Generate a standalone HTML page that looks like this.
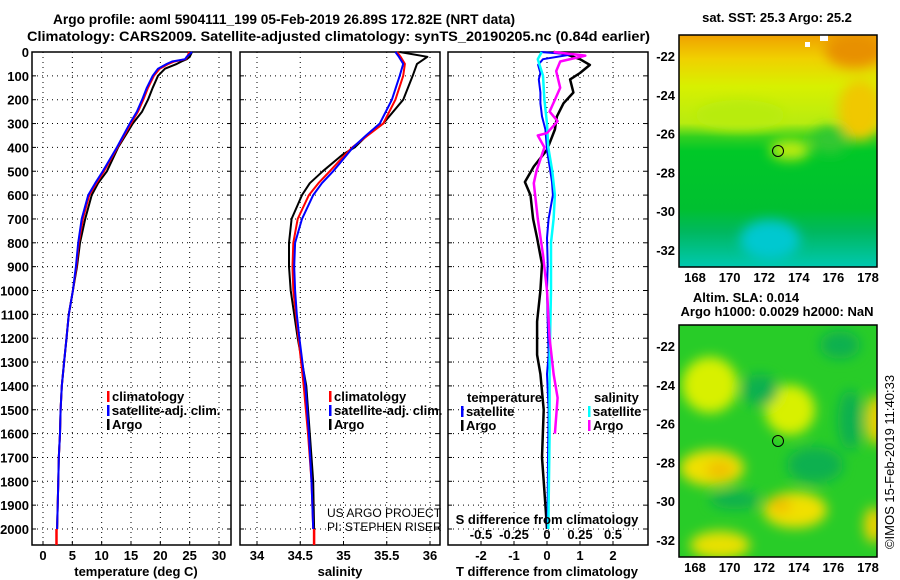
<!DOCTYPE html>
<html><head><meta charset="utf-8">
<style>
html,body{margin:0;padding:0;background:#fff;}
svg{display:block;font-family:"Liberation Sans",sans-serif;}
.b{font-weight:bold;font-size:13px;}
.t{font-weight:bold;font-size:14px;}
</style></head>
<body>
<svg id="chart" width="900" height="580" viewBox="0 0 900 580" xmlns="http://www.w3.org/2000/svg">
<defs>
<filter id="blur" x="-20%" y="-20%" width="140%" height="140%"><feGaussianBlur stdDeviation="6"/></filter>
<clipPath id="clipTop"><rect x="679" y="35" width="198" height="232"/></clipPath>
<clipPath id="clipBot"><rect x="679" y="325" width="198" height="232"/></clipPath>
<linearGradient id="sstGrad" x1="0" y1="0" x2="0" y2="1">
<stop offset="0" stop-color="#f0a000"/><stop offset="0.1" stop-color="#f0d000"/>
<stop offset="0.22" stop-color="#d8f000"/><stop offset="0.38" stop-color="#b8ec10"/>
<stop offset="0.44" stop-color="#30d020"/><stop offset="0.5" stop-color="#00c828"/>
<stop offset="0.75" stop-color="#00c030"/><stop offset="0.85" stop-color="#00b860"/>
<stop offset="1" stop-color="#00c8b0"/></linearGradient>
</defs>
<g id="titles">
<text class="t" x="53" y="24" textLength="462" lengthAdjust="spacingAndGlyphs">Argo profile: aoml 5904111_199 05-Feb-2019 26.89S 172.82E (NRT data)</text>
<text class="t" x="27" y="41" textLength="623" lengthAdjust="spacingAndGlyphs">Climatology: CARS2009. Satellite-adjusted climatology: synTS_20190205.nc (0.84d earlier)</text>
</g>
<g id="panels"></g>
<g id="maps">
<g clip-path="url(#clipTop)">
<rect x="679" y="35" width="198" height="232" fill="url(#sstGrad)"/>
<g filter="url(#blur)">
<ellipse cx="855" cy="50" rx="30" ry="18" fill="#e89000"/>
<ellipse cx="860" cy="110" rx="22" ry="30" fill="#f0c800"/>
<ellipse cx="740" cy="115" rx="45" ry="15" fill="#b8ec10"/>
<ellipse cx="830" cy="140" rx="18" ry="14" fill="#30c830"/>
<ellipse cx="770" cy="240" rx="30" ry="20" fill="#00c8d0"/>
<ellipse cx="790" cy="150" rx="20" ry="10" fill="#c0ec10"/>
</g>
<circle cx="778" cy="151" r="5.5" fill="none" stroke="#000" stroke-width="1"/>
<rect x="805" y="42" width="5" height="5" fill="#fff"/><rect x="820" y="35" width="8" height="6" fill="#fff"/>
</g>
<rect x="679" y="35" width="198" height="232" fill="none" stroke="#000" stroke-width="1.5"/>
<g clip-path="url(#clipBot)">
<rect x="679" y="325" width="198" height="232" fill="#28cc28"/>
<g filter="url(#blur)">
<ellipse cx="710" cy="385" rx="28" ry="28" fill="#d8f000"/>
<ellipse cx="790" cy="410" rx="25" ry="25" fill="#d8f000"/>
<ellipse cx="712" cy="468" rx="32" ry="18" fill="#f0e000"/>
<ellipse cx="720" cy="470" rx="14" ry="9" fill="#f0c000"/>
<ellipse cx="795" cy="510" rx="32" ry="18" fill="#f0e000"/>
<ellipse cx="780" cy="505" rx="12" ry="8" fill="#f0c000"/>
<ellipse cx="720" cy="545" rx="30" ry="14" fill="#e8e000"/>
<ellipse cx="876" cy="420" rx="10" ry="25" fill="#f0d000"/>
<ellipse cx="874" cy="525" rx="10" ry="18" fill="#f0d000"/>
<ellipse cx="760" cy="390" rx="18" ry="16" fill="#10b050"/>
<ellipse cx="815" cy="465" rx="28" ry="18" fill="#10b050"/>
<ellipse cx="735" cy="500" rx="25" ry="9" fill="#10b050"/>
<ellipse cx="840" cy="345" rx="20" ry="14" fill="#10b050"/>
<ellipse cx="850" cy="420" rx="12" ry="30" fill="#10b050"/>
</g>
<circle cx="778" cy="441" r="5.5" fill="none" stroke="#000" stroke-width="1"/>
</g>
<rect x="679" y="325" width="198" height="232" fill="none" stroke="#000" stroke-width="1.5"/>
<text class="b" x="777" y="22" text-anchor="middle">sat. SST: 25.3 Argo: 25.2</text>
<text class="b" x="746" y="302" text-anchor="middle">Altim. SLA: 0.014</text>
<text class="b" x="777" y="316" text-anchor="middle">Argo h1000: 0.0029 h2000: NaN</text>
<text font-size="13" transform="translate(894,462) rotate(-90)" text-anchor="middle">©IMOS 15-Feb-2019 11:40:33</text>
</g>
</svg>
<script>
// ---- data (depth in dbar) ----
const tempDepth = [0,20,30,40,50,70,100,150,200,250,300,400,500,550,600,700,800,900,1000,1100,1200,1300,1400,1500,1600,1700,1800,1900,2000];
const tempArgo  = [25.4,25.0,24.5,23.6,22.8,20.8,19.6,18.7,17.9,16.9,15.3,12.8,10.9,9.4,8.3,7.2,6.3,5.8,5.1,4.4,4.0,3.6,3.2,3.0,2.9,2.7,2.6,2.5,2.4];
const tempClim  = [24.9,24.6,24.3,22.4,21.4,19.9,18.9,17.9,17.1,16.2,15.0,12.7,10.4,9.1,7.9,6.8,6.1,5.7,5.1,4.4,4.0,3.6,3.2,3.0,2.9,2.7,2.6,2.5,2.4];
const tempSat   = [25.4,24.5,24.2,22.0,21.1,19.6,18.7,17.7,16.9,16.0,14.8,12.6,10.2,8.9,7.7,6.6,6.0,5.6,5.1,4.4,4.0,3.6,3.2,3.0,2.9,2.7,2.6,2.5,2.4];
const salDepth = [0,20,50,100,200,300,350,400,430,500,550,600,700,800,900,1000,1100,1200,1400,1600,1800,2000];
const salArgo  = [35.65,35.97,35.85,35.8,35.69,35.46,35.27,35.13,34.99,34.76,34.61,34.52,34.40,34.37,34.37,34.39,34.43,34.47,34.57,34.61,34.65,34.66];
const salClim  = [35.62,35.66,35.71,35.69,35.60,35.46,35.28,35.10,35.02,34.84,34.71,34.60,34.47,34.42,34.41,34.42,34.45,34.48,34.54,34.59,34.63,34.65];
const salSat   = [35.60,35.64,35.69,35.65,35.56,35.42,35.26,35.11,35.04,34.88,34.75,34.65,34.52,34.44,34.43,34.44,34.46,34.49,34.56,34.60,34.63,34.65];
const tdDepth = [0,10,30,54,88,115,170,215,270,325,410,480,545,600,700,780,890,1000,1130,1270,1350,1500,1700,1900,2000];
const tdArgo  = [0.2,0.6,1.0,1.3,1.0,0.7,0.8,0.5,0.3,0.24,0,-0.4,-0.67,-0.5,-0.42,-0.3,-0.15,-0.2,-0.3,-0.3,-0.2,-0.1,-0.15,-0.05,0];
const tdSat   = [-0.2,0.75,-0.12,-0.27,-0.2,-0.25,-0.2,-0.2,-0.15,-0.05,0,0.08,0.15,0.18,0.05,0,0.02,0,0.02,0.05,0,0.05,0.03,0.02,0.02];
const sdDepth = [0,15,40,80,150,200,250,290,340,350,400,500,550,700,850,1000,1200,1350,1450,1600];
const sdArgo  = [0.05,0.29,0.1,0.07,0.1,0.06,0.02,0.08,0,-0.07,-0.02,-0.08,-0.1,-0.07,-0.03,0,0.02,0.05,0.08,0.06];
const sdSatDepth = [0,30,100,200,300,400,500,600,700,800,1000,1300,1600,2000];
const sdSat   = [-0.04,-0.07,-0.03,-0.02,0,0.01,0.04,0.06,0.05,0.03,0.03,0.02,0.02,0.01];
const depthTicks = [0,100,200,300,400,500,600,700,800,900,1000,1100,1200,1300,1400,1500,1600,1700,1800,1900,2000];
const tempTicks = [0,5,10,15,20,25,30];
const salTicks = [34,34.5,35,35.5,36];
const salTickLabels = ["34","34.5","35","35.5","36"];
const tdTicks = [-2,-1,0,1,2];
const sdTicks = [-0.5,-0.25,0,0.25,0.5];
const sdTickLabels = ["-0.5","-0.25","0","0.25","0.5"];
const lonTicks = [168,170,172,174,176,178];
const latTicks = [-22,-24,-26,-28,-30,-32];

const NS='http://www.w3.org/2000/svg';
const root=document.getElementById('panels');
function mk(tag,attrs,parent){const e=document.createElementNS(NS,tag);for(const k in attrs)e.setAttribute(k,attrs[k]);(parent||root).appendChild(e);return e;}
const TOP=52, BOT=545;
function yD(d){return TOP+d*0.2385;}
function lin(d0,d1,r0,r1){return v=>r0+(v-d0)/(d1-d0)*(r1-r0);}
const xT=lin(0,30,43,219), xS=lin(34,36,257,430), xTD=lin(0,2,547,613), xSD=lin(0,0.5,547,613);

function frame(x0,x1,name){
  const r=mk('rect',{x:x0,y:TOP,width:x1-x0,height:BOT-TOP,fill:'none',stroke:'#000','stroke-width':1.5});
  
  
  depthTicks.forEach(d=>{
    const g=mk('line',{x1:x0,x2:x1,y1:yD(d),y2:yD(d),stroke:'#000','stroke-dasharray':'1,4','stroke-width':1});
    
    
    mk('line',{x1:x0,x2:x0+4,y1:yD(d),y2:yD(d),stroke:'#000'});
    mk('line',{x1:x1-4,x2:x1,y1:yD(d),y2:yD(d),stroke:'#000'});
  });
}
function vgrid(ticks,f,x0,x1,labels,ly){
  ticks.forEach((t,i)=>{
    const x=f(t);
    const g=mk('line',{x1:x,x2:x,y1:TOP,y2:BOT,stroke:'#000','stroke-dasharray':'1,4'});
    
    
    mk('line',{x1:x,x2:x,y1:BOT-4,y2:BOT,stroke:'#000'});
    if(labels){const tx=mk('text',{x:x,y:ly,'text-anchor':'middle','class':'b'});tx.textContent=labels[i];
      
      }
  });
}
function line(depths,vals,f,color,name,w){
  const pts=depths.map((d,i)=>f(vals[i]).toFixed(1)+','+yD(d).toFixed(1)).join(' ');
  const p=mk('polyline',{points:pts,fill:'none',stroke:color,'stroke-width':w||2,'stroke-linejoin':'round'});
  
  
}
function text(x,y,s,name,extra){const t=mk('text',Object.assign({x:x,y:y,'class':'b'},extra||{}));t.textContent=s;
  
  return t;}
function legend(x,y,items){
  items.forEach((it,i)=>{
    mk('rect',{x:x,y:y+i*14-10,width:2.5,height:11,fill:it[1]});
    text(x+5,y+i*14,it[0],'legend-entry');
  });
}
depthTicks.forEach(d=>{text(29,yD(d)+5,String(d),'depth-tick-label',{'text-anchor':'end'});});
// panel 1
frame(32,231,'temperature-panel');
vgrid(tempTicks,xT,32,231,tempTicks.map(String),560);
line(tempDepth,tempArgo,xT,'#000','argo-temperature-line');
line(tempDepth,tempClim,xT,'#f00','climatology-temperature-line');
line(tempDepth,tempSat,xT,'#00f','satellite-temperature-line');
mk('line',{x1:xT(2.3),x2:xT(2.3),y1:yD(2000),y2:BOT,stroke:'#f00','stroke-width':2.5});
legend(107,401,[['climatology','#f00'],['satellite-adj. clim.','#00f'],['Argo','#000']]);
text(136,576,'temperature (deg C)','temperature-axis-title',{'text-anchor':'middle'});
// panel 2
frame(240,440,'salinity-panel');
vgrid(salTicks,xS,240,440,salTickLabels,560);
line(salDepth,salArgo,xS,'#000','argo-salinity-line');
line(salDepth,salClim,xS,'#f00','climatology-salinity-line');
line(salDepth,salSat,xS,'#00f','satellite-salinity-line');
mk('line',{x1:xS(34.66),x2:xS(34.66),y1:yD(2000),y2:BOT,stroke:'#f00','stroke-width':2.5});
legend(329,401,[['climatology','#f00'],['satellite-adj. clim.','#00f'],['Argo','#000']]);
text(340,576,'salinity','salinity-axis-title',{'text-anchor':'middle'});
text(327,517,'US ARGO PROJECT','project-credit',{'class':'','font-size':'12'});
text(327,531,'PI: STEPHEN RISER','pi-credit',{'class':'','font-size':'12'});
// panel 3
frame(448,648,'difference-panel');
vgrid(tdTicks,xTD,448,648,tdTicks.map(String),560);
line(tdDepth,tdArgo,xTD,'#000','argo-temperature-difference-line',2.5);
line(tdDepth,tdSat,xTD,'#00f','satellite-temperature-difference-line');
line(sdSatDepth,sdSat,xSD,'#0ff','satellite-salinity-difference-line',2.5);
line(sdDepth,sdArgo,xSD,'#f0f','argo-salinity-difference-line',2.5);
text(467,402,'temperature','legend-title-temperature');
legend(461,416,[['satellite','#00f'],['Argo','#000']]);
text(594,402,'salinity','legend-title-salinity');
legend(588,416,[['satellite','#0ff'],['Argo','#f0f']]);
text(547,524,'S difference from climatology','salinity-difference-axis-title',{'text-anchor':'middle'});
sdTicks.forEach((t,i)=>{text(xSD(t),539,sdTickLabels[i],'salinity-difference-tick-label',{'text-anchor':'middle'});});
text(547,576,'T difference from climatology','temperature-difference-axis-title',{'text-anchor':'middle'});
// map axes
const xLon=lin(168,178,695,868), yLatT=lin(-22,-32,56,250), yLatB=lin(-22,-32,346,540);
[[35,267,yLatT,282],[325,557,yLatB,572]].forEach(m=>{
  lonTicks.forEach(l=>{const x=xLon(l);mk('line',{x1:x,x2:x,y1:m[0],y2:m[0]+4,stroke:'#000'});mk('line',{x1:x,x2:x,y1:m[1]-4,y2:m[1],stroke:'#000'});
    text(x,m[3],String(l),'longitude-tick-label',{'text-anchor':'middle'});});
  latTicks.forEach(l=>{const y=m[2](l);mk('line',{x1:679,x2:683,y1:y,y2:y,stroke:'#000'});mk('line',{x1:873,x2:877,y1:y,y2:y,stroke:'#000'});
    text(675,y+5,String(l),'latitude-tick-label',{'text-anchor':'end'});});
});
</script>
</body></html>
